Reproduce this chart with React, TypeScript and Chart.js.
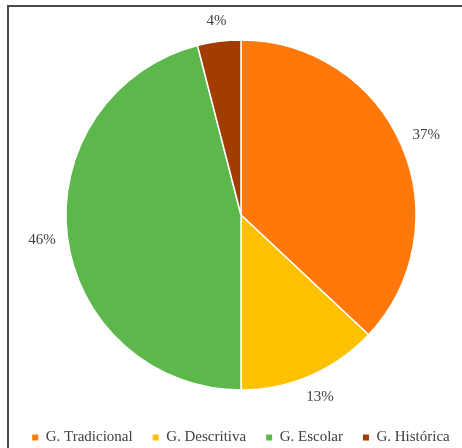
import React, { useEffect, useRef } from "react";
import { Chart, registerables } from "chart.js";

Chart.register(...registerables);

const categories = ["G. Tradicional", "G. Descritiva", "G. Escolar", "G. Histórica"];
const values = [37, 13, 46, 4];
const colors = ["#FF780A", "#FFC000", "#5CB84A", "#A33C00"];

const FONT = "'Liberation Serif', 'Times New Roman', serif";

const outsideLabels = {
  id: "outsideLabels",
  afterDatasetsDraw(chart: any) {
    const ctx = chart.ctx;
    const meta = chart.getDatasetMeta(0);
    const data = chart.data.datasets[0].data as number[];
    ctx.save();
    ctx.font = `15px ${FONT}`;
    ctx.fillStyle = "#404040";
    ctx.textAlign = "center";
    ctx.textBaseline = "middle";
    meta.data.forEach((arc: any, i: number) => {
      const p = arc.getProps(["x", "y", "startAngle", "endAngle", "outerRadius"], true);
      const mid = (p.startAngle + p.endAngle) / 2;
      const text = `${data[i]}%`;
      const hw = ctx.measureText(text).width / 2;
      const hh = 8;
      const c = Math.cos(mid);
      const s = Math.sin(mid);
      const d = p.outerRadius + 11 + Math.abs(c) * hw + Math.abs(s) * hh;
      ctx.fillText(text, p.x + c * d, p.y + s * d);
    });
    ctx.restore();
  },
};

export default function App() {
  const ref = useRef<HTMLCanvasElement | null>(null);
  useEffect(() => {
    if (!ref.current) return;
    const chart = new Chart(ref.current, {
      type: "pie",
      data: {
        labels: categories,
        datasets: [
          {
            data: values,
            backgroundColor: colors,
            borderColor: "#ffffff",
            borderWidth: 1.5,
            radius: 175,
          } as any,
        ],
      },
      options: {
        animation: false,
        responsive: false,
        maintainAspectRatio: false,
        layout: { padding: { top: 20, left: 20, right: 0, bottom: 0 } },
        plugins: {
          tooltip: { enabled: false },
          legend: {
            position: "bottom",
            labels: {
              boxWidth: 6,
              boxHeight: 6,
              padding: 20,
              color: "#404040",
              font: { size: 15, family: FONT },
              generateLabels: (c: any) => {
                const base = (Chart as any).overrides.pie.plugins.legend.labels.generateLabels(c);
                return base.map((it: any) => ({ ...it, lineWidth: 0, strokeStyle: "transparent" }));
              },
            },
          },
        },
      },
      plugins: [outsideLabels],
    });
    return () => chart.destroy();
  }, []);

  return (
    <div
      style={{
        position: "fixed",
        left: 0,
        top: 0,
        width: 462,
        height: 448,
        overflow: "hidden",
        background: "#ffffff",
      }}
    >
      <div
        style={{
          position: "absolute",
          left: 7,
          top: 5,
          width: 500,
          height: 500,
          border: "2px solid #4a4a4a",
          boxSizing: "border-box",
        }}
      />
      <canvas
        ref={ref}
        width={502}
        height={455}
        style={{ position: "absolute", left: -20, top: 0, width: 502, height: 455 }}
      />
    </div>
  );
}
